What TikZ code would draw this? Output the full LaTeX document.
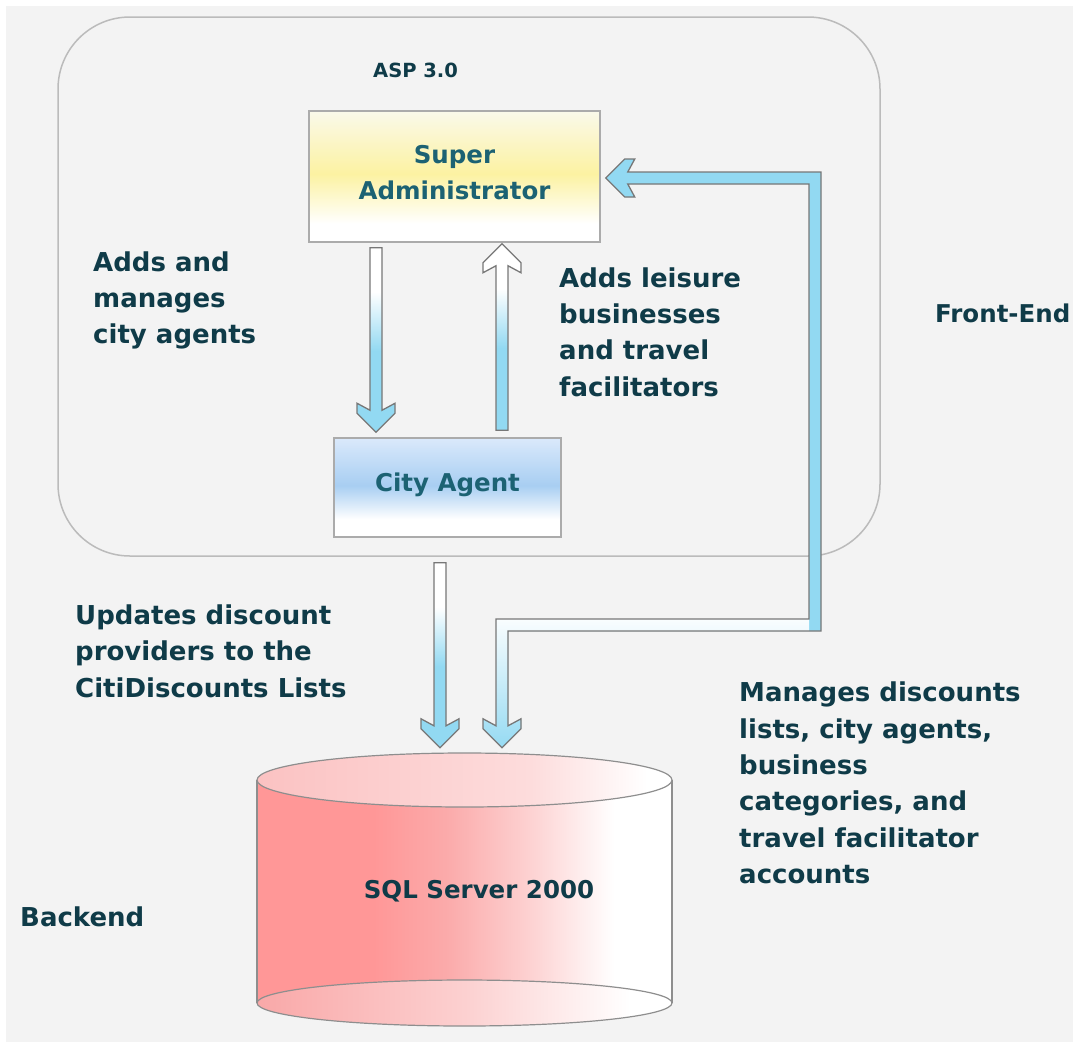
\documentclass[tikz,border=0pt]{standalone}
\usepackage{fontspec}
\setmainfont{DejaVu Sans}
\usetikzlibrary{calc}
\definecolor{bgc}{HTML}{F3F3F3}
\definecolor{arrblue}{HTML}{92D9F2}
\definecolor{arrline}{HTML}{777777}
\definecolor{boxline}{HTML}{ABABAB}
\definecolor{frameline}{HTML}{BBBBBB}
\definecolor{cylline}{HTML}{8E8E8E}
\definecolor{labc}{HTML}{0F3B48}
\definecolor{boxtxt}{HTML}{1C6273}
\definecolor{sayel}{HTML}{FCF2A2}
\definecolor{satop}{HTML}{FAF9EA}
\definecolor{cablu}{HTML}{A8CEF2}
\definecolor{catop}{HTML}{DAE9FB}
\definecolor{dbred}{HTML}{FF9797}
\definecolor{dbredb}{HTML}{FBABAB}
\definecolor{dbredc}{HTML}{FDD2D2}
\definecolor{dbtopL}{HTML}{FBC2C2}
\definecolor{dbtopM}{HTML}{FDDCDC}
\definecolor{dbbotL}{HTML}{F9A8A8}
\definecolor{dbbotM}{HTML}{FCD0D0}
\pgfdeclareverticalshading{arrgrad}{100bp}{color(0bp)=(arrblue); color(47bp)=(arrblue); color(63bp)=(white); color(100bp)=(white)}
\pgfdeclareverticalshading{sagrad}{100bp}{color(0bp)=(white); color(32bp)=(white); color(51bp)=(sayel); color(75bp)=(satop); color(100bp)=(satop)}
\pgfdeclareverticalshading{cagrad}{100bp}{color(0bp)=(white); color(34bp)=(white); color(51bp)=(cablu); color(75bp)=(catop); color(100bp)=(catop)}
\pgfdeclarehorizontalshading{bodygrad}{100bp}{color(0bp)=(dbred); color(39bp)=(dbred); color(48bp)=(dbredb); color(58bp)=(dbredc); color(68bp)=(white); color(100bp)=(white)}
\pgfdeclarehorizontalshading{topgrad}{100bp}{color(0bp)=(dbtopL); color(25bp)=(dbtopL); color(58bp)=(dbtopM); color(72bp)=(white); color(100bp)=(white)}
\pgfdeclarehorizontalshading{botgrad}{100bp}{color(0bp)=(dbbotL); color(25bp)=(dbbotL); color(50bp)=(dbbotM); color(70bp)=(white); color(100bp)=(white)}
\tikzset{
  every node/.style={font=\fontsize{24.5}{36.3}\selectfont\bfseries},
  lab/.style={text=labc, align=left, anchor=west, inner sep=0pt, font=\fontsize{26}{36.3}\selectfont\bfseries},
  sabox/.style={draw=boxline, line width=1.5pt, shade, shading=sagrad, text=boxtxt, align=center, inner sep=0pt, minimum width=291pt, minimum height=131pt, text depth=8pt},
  cabox/.style={draw=boxline, line width=1.5pt, shade, shading=cagrad, text=boxtxt, align=center, inner sep=0pt, minimum width=227pt, minimum height=99pt, text depth=11pt},
  frame/.style={draw=frameline, line width=1.5pt, rounded corners=72pt, inner sep=0pt, minimum width=822pt, minimum height=539pt},
  arrsty/.style={shading=arrgrad, draw=arrline, line width=1.3pt, line join=miter},
}
\newcommand\DownArr[2]{%
 \shade[arrsty] let \p1=#1, \p2=#2 in
 (\x2-6pt,\y1) -- (\x2+6pt,\y1) -- (\x2+6pt,\y2+22pt) -- (\x2+19pt,\y2+29pt) -- (\x2+19pt,\y2+19pt) -- (\x2,\y2) -- (\x2-19pt,\y2+19pt) -- (\x2-19pt,\y2+29pt) -- (\x2-6pt,\y2+22pt) -- cycle;}
\newcommand\UpArr[2]{%
 \shade[arrsty] let \p1=#1, \p2=#2 in
 (\x2-6pt,\y1) -- (\x2+6pt,\y1) -- (\x2+6pt,\y2-22pt) -- (\x2+19pt,\y2-29pt) -- (\x2+19pt,\y2-19pt) -- (\x2,\y2) -- (\x2-19pt,\y2-19pt) -- (\x2-19pt,\y2-29pt) -- (\x2-6pt,\y2-22pt) -- cycle;}
\newcommand\Elbow[1]{%
 \path[#1] let \p1=([xshift=5pt,yshift=-1.5pt]sa.east), \p2=([xshift=37.5pt,yshift=5pt]db.north), \p3=(elb) in
 (\x1,\y1) -- (\x1+19pt,\y1+19pt) -- (\x1+29pt,\y1+19pt) -- (\x1+22pt,\y1+6pt) -- (\x3+6pt,\y1+6pt) -- (\x3+6pt,\y3-6pt) -- (\x2+6pt,\y3-6pt) -- (\x2+6pt,\y2+22pt) -- (\x2+19pt,\y2+29pt) -- (\x2+19pt,\y2+19pt) -- (\x2,\y2) -- (\x2-19pt,\y2+19pt) -- (\x2-19pt,\y2+29pt) -- (\x2-6pt,\y2+22pt) -- (\x2-6pt,\y3+6pt) -- (\x3-6pt,\y3+6pt) -- (\x3-6pt,\y1-6pt) -- (\x1+22pt,\y1-6pt) -- (\x1+29pt,\y1-19pt) -- (\x1+19pt,\y1-19pt) -- cycle;}
\begin{document}
\begin{tikzpicture}[x=1pt,y=-1pt]
\useasboundingbox (0,0) rectangle (1073,1042);
\fill[white] (0,0) rectangle (1073,1042);
\fill[bgc] (6,6) rectangle (1073,1042);
% front-end frame
\node[frame] (fe) at (469,286.5) {};
% boxes
\node[sabox] (sa) at (454.5,176.5) {Super\\Administrator};
\node[cabox] (ca) at (447.5,487.5) {City Agent};
% database cylinder
\node[inner sep=0pt, minimum width=415pt, minimum height=274pt] (db) at (464.5,890) {};
\shade[shading=bodygrad] (257,780) rectangle (672,1003);
\shade[shading=botgrad, draw=cylline, line width=1.2pt] (464.5,1003) ellipse [x radius=207.5pt, y radius=23pt];
\draw[cylline, line width=1.2pt] (257,780) -- (257,1003) (672,780) -- (672,1003);
\shade[shading=topgrad, draw=cylline, line width=1.2pt] (464.5,780) ellipse [x radius=207.5pt, y radius=27pt];
\node[text=labc, inner sep=0pt] (dbl) at (479,891) {SQL Server 2000};
% arrows
\DownArr{([xshift=-78.5pt,yshift=-5pt]sa.south)}{([xshift=-71.5pt,yshift=5pt]ca.north)}
\UpArr{([xshift=54.5pt,yshift=7pt]ca.north)}{([xshift=47.5pt,yshift=-1pt]sa.south)}
\DownArr{([xshift=-7.5pt,yshift=-25pt]ca.south)}{([xshift=-24.5pt,yshift=5pt]db.north)}
\coordinate (elb) at (815,625);
\begin{scope}
\Elbow{clip}
\fill[arrblue] (470,140) rectangle (840,760);
\shade[top color=white, bottom color=arrblue] (470,612) rectangle (809,752);
\end{scope}
\Elbow{draw=arrline, line width=1.3pt, line join=miter}
% labels
\node[lab, font=\fontsize{19.5}{24}\selectfont\bfseries] (asp) at (373,70) {ASP 3.0};
\node[lab] (l1) at (93,300.5) {Adds and\\manages\\city agents};
\node[lab] (l2) at (559,332) {Adds leisure\\businesses\\and travel\\facilitators};
\node[lab, font=\fontsize{24.5}{30}\selectfont\bfseries] (fend) at (935,313) {Front-End};
\node[lab] (l3) at (75,651) {Updates discount\\providers to the\\CitiDiscounts Lists};
\node[lab] (l4) at (739,783) {Manages discounts\\lists, city agents,\\business\\categories, and\\travel facilitator\\accounts};
\node[lab] (bend) at (20,917) {Backend};
\end{tikzpicture}
\end{document}
